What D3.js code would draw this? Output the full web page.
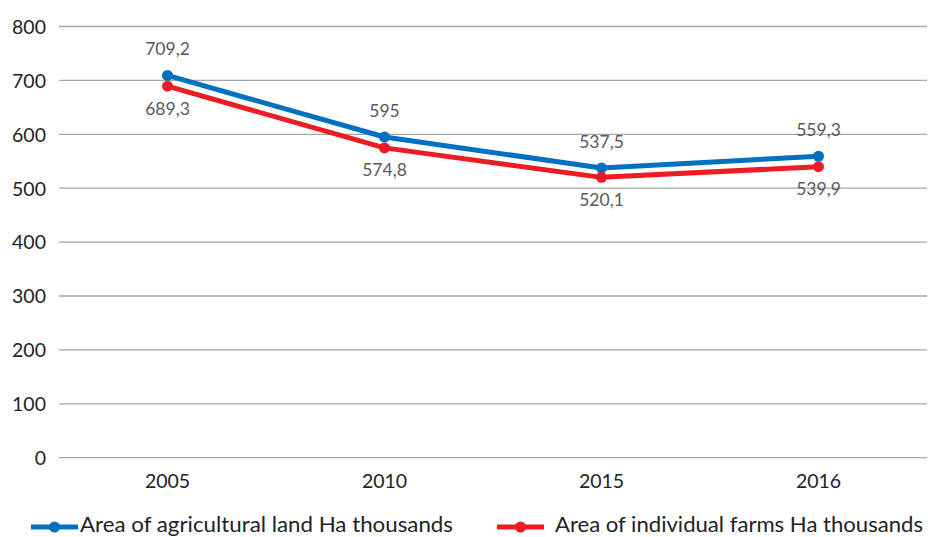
<!DOCTYPE html>
<html><head><meta charset="utf-8">
<script src="https://cdn.jsdelivr.net/npm/d3@7"></script>
<style>body{margin:0;background:#fff;} svg{display:block;}</style>
</head><body>
<svg id="c" width="928" height="537"></svg>
<script>
const years = ["2005", "2010", "2015", "2016"];
const agricultural = [709.2, 595, 537.5, 559.3];
const individual = [689.3, 574.8, 520.1, 539.9];
const yTicks = [0, 100, 200, 300, 400, 500, 600, 700, 800];
const seriesNames = ["Area of agricultural land Ha thousands", "Area of individual farms Ha thousands"];
const seriesColors = ["#0070C0", "#ED1C24"];

const svg = d3.select("#c");
const font = "Lato, 'Open Sans', sans-serif";
const x = d3.scaleBand().domain(years).range([59, 927]);
const y = d3.scaleLinear().domain([0, 800]).range([457.7, 26.5]);

// gridlines
svg.append("g").selectAll("line").data(yTicks).join("line")
  .attr("x1", 59).attr("x2", 927)
  .attr("y1", d => y(d)).attr("y2", d => y(d))
  .attr("stroke", "#a6a6a6").attr("stroke-width", 1.3);

// y labels
const yAxis = d3.axisLeft(y).tickValues(yTicks).tickSize(0).tickPadding(0);
const ga = svg.append("g").attr("transform", "translate(46,0)").call(yAxis);
ga.select(".domain").remove();
ga.selectAll("text").attr("font-family", font).attr("font-size", 19.5).attr("fill", "#222").attr("dy", "0.35em");

// x labels
const xAxis = d3.axisBottom(x).tickSize(0).tickPadding(0);
const gx = svg.append("g").attr("transform", "translate(0,474)").call(xAxis);
gx.select(".domain").remove();
gx.selectAll("text").attr("font-family", font).attr("font-size", 19.5).attr("fill", "#222").attr("dy", "0.71em");

const cx = d => x(d) + x.bandwidth() / 2;
const series = [agricultural, individual];
const line = d3.line().x((d, i) => cx(years[i])).y(d => y(d));

series.forEach((vals, si) => {
  const g = svg.append("g");
  g.append("path").attr("d", line(vals)).attr("fill", "none")
    .attr("stroke", seriesColors[si]).attr("stroke-width", 5).attr("stroke-linejoin", "round");
  g.selectAll("circle").data(vals).join("circle")
    .attr("cx", (d, i) => cx(years[i])).attr("cy", d => y(d)).attr("r", 5.5)
    .attr("fill", seriesColors[si]);
  g.selectAll("text").data(vals).join("text")
    .attr("x", (d, i) => cx(years[i]))
    .attr("y", d => y(d) + (si === 0 ? -20 : 28.5))
    .attr("text-anchor", "middle")
    .attr("font-family", font).attr("font-size", 17.5).attr("fill", "#595959")
    .text(d => String(d).replace(".", ","));
});

// legend
const legendItems = [{lx: 31, tx: 80, w: 373}, {lx: 497, tx: 555, w: 368}];
legendItems.forEach((L, i) => {
  const g = svg.append("g");
  g.append("line").attr("x1", L.lx).attr("x2", L.lx + 47).attr("y1", 527).attr("y2", 527)
    .attr("stroke", seriesColors[i]).attr("stroke-width", 5);
  g.append("circle").attr("cx", L.lx + 23.5).attr("cy", 527).attr("r", 5.5).attr("fill", seriesColors[i]);
  g.append("text").attr("x", L.tx).attr("y", 532)
    .attr("font-family", font).attr("font-size", 22).attr("fill", "#222")
    .attr("textLength", L.w).attr("lengthAdjust", "spacingAndGlyphs")
    .text(seriesNames[i]);
});
</script>
</body></html>
